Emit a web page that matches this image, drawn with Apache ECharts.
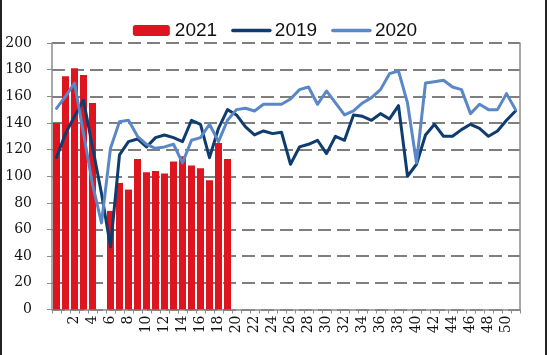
<!DOCTYPE html>
<html>
<head>
<meta charset="utf-8">
<script src="https://cdn.jsdelivr.net/npm/echarts@6/dist/echarts.min.js"></script>
<style>
  html, body { margin: 0; padding: 0; background: #fff; }
  #wrap { position: relative; width: 550px; height: 355px; }
  #chart { width: 550px; height: 355px; }
  .edge { position: absolute; top: 0; width: 2px; height: 355px; background: #222; }
</style>
</head>
<body>
<div id="wrap">
  <div id="chart"></div>
  <div class="edge" style="left:0"></div>
  <div class="edge" style="left:545px"></div>
</div>
<script>
// Week categories (index 0..51)
const categories = ['0','1','2','3','4','5','6','7','8','9','10','11','12','13','14','15','16','17','18','19','20',
  '21','22','23','24','25','26','27','28','29','30','31','32','33','34','35','36','37','38','39','40',
  '41','42','43','44','45','46','47','48','49','50','51'];
// Tick labels shown on the x axis
const tickLabels = ['2','4','6','8','10','12','14','16','18','20','22','24','26','28','30','32','34','36','38','40',
  '42','44','46','48','50'];
// Y axis ticks
const yTicks = [0,20,40,60,80,100,120,140,160,180,200];

const s2021 = [140,175,181,176,155,null,74,95,90,113,103,104,102,111,115,108,106,97,125,113];
const s2019 = [114,132,145,157,122,87,47,116,126,128,122,129,131,129,126,142,139,114,136,150,
  146,137,131,134,132,133,109,122,124,127,117,130,127,146,145,142,147,143,153,100,
  109,131,139,130,130,135,139,136,130,134,142,149];
const s2020 = [151,160,170,132,94,65,121,141,142,130,124,121,122,124,110,127,129,139,126,142,
  150,151,149,154,154,154,158,165,167,154,164,155,146,149,155,159,165,177,179,155,
  110,170,171,172,167,165,147,154,150,150,162,150];

const chart = echarts.init(document.getElementById('chart'), null, { renderer: 'canvas' });
const axisFont = { fontFamily: 'DejaVu Serif', fontSize: 14, color: '#111' };
const hiddenSymbol = { opacity: 0, color: 'rgba(0,0,0,0)', borderWidth: 0 };

chart.setOption({
  animation: false,
  backgroundColor: '#fff',
  legend: {
    top: 16,
    left: 'center',
    itemWidth: 37,
    itemHeight: 11,
    itemGap: 14,
    textStyle: { fontFamily: 'Liberation Sans', fontSize: 19, color: '#111' },
    data: [
      { name: '2021' },
      { name: '2019', itemStyle: hiddenSymbol, lineStyle: { width: 3.5, color: '#0F3C6E' } },
      { name: '2020', itemStyle: hiddenSymbol, lineStyle: { width: 3.5, color: '#5A87C6' } }
    ]
  },
  grid: { left: 52, right: 30, top: 43, bottom: 45.5, containLabel: false },
  xAxis: {
    type: 'category',
    data: categories,
    boundaryGap: true,
    axisLine: { show: true, lineStyle: { color: '#8c8c8c', width: 1.5 } },
    axisTick: { show: true, interval: 0, length: 4, lineStyle: { color: '#8c8c8c' } },
    axisLabel: Object.assign({
      interval: function (idx, val) { return tickLabels.indexOf(val) >= 0; },
      rotate: 90,
      margin: 6
    }, axisFont),
    splitLine: { show: false }
  },
  yAxis: [{
    type: 'value',
    min: yTicks[0],
    max: yTicks[yTicks.length - 1],
    interval: 20,
    axisLine: { show: true, lineStyle: { color: '#8c8c8c', width: 1.5 } },
    axisTick: { show: true, length: 5, lineStyle: { color: '#8c8c8c' } },
    axisLabel: Object.assign({ margin: 20 }, axisFont),
    splitLine: { show: true, lineStyle: { color: '#7f7f7f', width: 2, type: [13, 6] } }
  }, {
    type: 'value',
    position: 'right',
    min: yTicks[0],
    max: yTicks[yTicks.length - 1],
    interval: 20,
    axisLine: { show: true, lineStyle: { color: '#8c8c8c', width: 1.5 } },
    axisTick: { show: false },
    axisLabel: { show: false },
    splitLine: { show: false }
  }],
  series: [{
    name: '2021',
    type: 'bar',
    data: s2021,
    barWidth: 7,
    itemStyle: { color: '#DE141E' }
  }, {
    name: '2019',
    type: 'line',
    data: s2019,
    symbol: 'none',
    lineStyle: { color: '#0F3C6E', width: 3, join: 'round', cap: 'round' },
    itemStyle: { color: '#0F3C6E' }
  }, {
    name: '2020',
    type: 'line',
    data: s2020,
    symbol: 'none',
    lineStyle: { color: '#5A87C6', width: 3, join: 'round', cap: 'round' },
    itemStyle: { color: '#5A87C6' }
  }]
});
</script>
</body>
</html>
